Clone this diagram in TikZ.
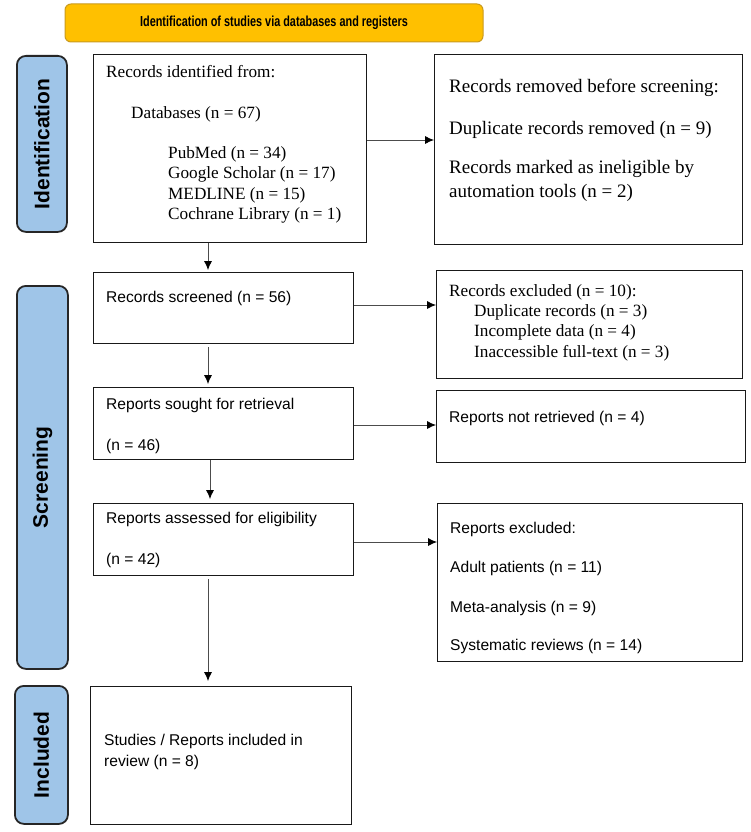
\documentclass[tikz,border=0pt]{standalone}
\usepackage{fontspec}
\usepackage{graphicx}
\setmainfont{Liberation Serif}
\newfontfamily\arialf{Liberation Sans}
\usetikzlibrary{arrows.meta}
\definecolor{bannerfill}{HTML}{FFC000}
\definecolor{bannerdraw}{HTML}{C99A1E}
\definecolor{pillfill}{HTML}{9FC5E8}
\definecolor{pilldraw}{HTML}{262626}
\tikzset{
  box/.style={draw=black!90, line width=1.3pt, anchor=north west, inner sep=0pt},
  pill/.style={draw=pilldraw, fill=pillfill, line width=1.8pt, rounded corners=9pt, anchor=north west, inner sep=0pt},
  pilltext/.style={rotate=90, font=\arialf\bfseries\fontsize{21}{24}\selectfont, inner sep=0pt},
  sertxt/.style={anchor=base west, inner sep=0pt, font=\fontsize{17.2}{20}\selectfont},
  sertxtb/.style={anchor=base west, inner sep=0pt, font=\fontsize{19}{22}\selectfont},
  santxt/.style={anchor=base west, inner sep=0pt, font=\arialf\fontsize{15.6}{19}\selectfont},
  flow/.style={draw=black!70, line width=0.8pt, -{Latex[length=9pt,width=8pt,color=black]}},
}
\newcommand\flowbox[6][box]{\node[#1, minimum width={#5-#3}, minimum height={#6-#4}] (#2) at (#3,#4) {};}
\begin{document}
\begin{tikzpicture}[x=1pt,y=-1pt]
\useasboundingbox (0,0) rectangle (750,832);
% banner
\node[draw=bannerdraw, fill=bannerfill, line width=1pt, rounded corners=6pt,
      minimum width=418pt, minimum height=38pt, inner sep=0pt] (banner) at (274,23)
      {\arialf\bfseries\fontsize{14.5}{17}\selectfont\scalebox{0.75}[1]{Identification of studies via databases and registers}};
% side pills
\flowbox[pill]{pid}{16}{55}{66}{231}
\flowbox[pill]{pscr}{16}{285}{67}{668}
\flowbox[pill]{pinc}{14}{685}{67}{823}
\node[pilltext] (lid) at (pid.center) {Identification};
\node[pilltext] (lscr) at (pscr.center) {Screening};
\node[pilltext] (linc) at (pinc.center) {Included};
% boxes
\flowbox{idb}{93}{54}{366}{242}
\flowbox{rem}{434}{54}{742}{244}
\flowbox{scr}{93}{272}{353}{343}
\flowbox{exc}{436}{270}{742}{378}
\flowbox{sought}{93}{387}{353}{459}
\flowbox{notret}{436}{390}{745}{462}
\flowbox{assess}{93}{503}{353}{575}
\flowbox{repexc}{437}{503}{742}{661}
\flowbox{incl}{90}{686}{351}{824}
% identification text
\node[sertxt] (t1) at (106,78) {Records identified from:};
\node[sertxt] (t2) at (131,118) {Databases (n = 67)};
\node[sertxt] (t3) at (168,158) {PubMed (n = 34)};
\node[sertxt] (t4) at (168,178.5) {Google Scholar (n = 17)};
\node[sertxt] (t5) at (168,199) {MEDLINE (n = 15)};
\node[sertxt] (t6) at (168,219.5) {Cochrane Library (n = 1)};
% removed text
\node[sertxtb] (r1) at (449,93) {Records removed before screening:};
\node[sertxtb] (r2) at (449,135) {Duplicate records removed (n = 9)};
\node[sertxtb] (r3) at (449,173) {Records marked as ineligible by};
\node[sertxtb] (r4) at (449,197) {automation tools (n = 2)};
% excluded text
\node[sertxt] (e1) at (449,296) {Records excluded (n = 10):};
\node[sertxt] (e2) at (474,316) {Duplicate records (n = 3)};
\node[sertxt] (e3) at (474,336.5) {Incomplete data (n = 4)};
\node[sertxt] (e4) at (474,357) {Inaccessible full-text (n = 3)};
% sans texts
\node[santxt] (s1) at (106,302) {Records screened (n = 56)};
\node[santxt] (s2) at (106,409) {Reports sought for retrieval};
\node[santxt] (s3) at (106,450) {(n = 46)};
\node[santxt] (s4) at (449,422) {Reports not retrieved (n = 4)};
\node[santxt] (s5) at (106,523) {Reports assessed for eligibility};
\node[santxt] (s6) at (106,564) {(n = 42)};
\node[santxt] (x1) at (450,533) {Reports excluded:};
\node[santxt] (x2) at (450,572) {Adult patients (n = 11)};
\node[santxt] (x3) at (450,612) {Meta-analysis (n = 9)};
\node[santxt] (x4) at (450,650) {Systematic reviews (n = 14)};
\node[santxt] (i1) at (104,745) {Studies / Reports included in};
\node[santxt] (i2) at (104,766) {review (n = 8)};
% connectors
\draw[flow] (idb.east |- 0,140) -- (rem.west |- 0,140);
\draw[flow] (scr.east |- 0,305) -- (exc.west |- 0,305);
\draw[flow] (sought.east |- 0,425) -- (notret.west |- 0,425);
\draw[flow] (assess.east |- 0,542) -- (repexc.west |- 0,542);
\draw[flow, shorten >=2pt] (idb.south -| 208,0) -- (scr.north -| 208,0);
\draw[flow, shorten <=3pt, shorten >=3pt] (scr.south -| 208,0) -- (sought.north -| 208,0);
\draw[flow, shorten >=4pt] (sought.south -| 210,0) -- (assess.north -| 210,0);
\draw[flow, shorten <=3pt, shorten >=5pt] (assess.south -| 208,0) -- (incl.north -| 208,0);
\end{tikzpicture}
\end{document}
